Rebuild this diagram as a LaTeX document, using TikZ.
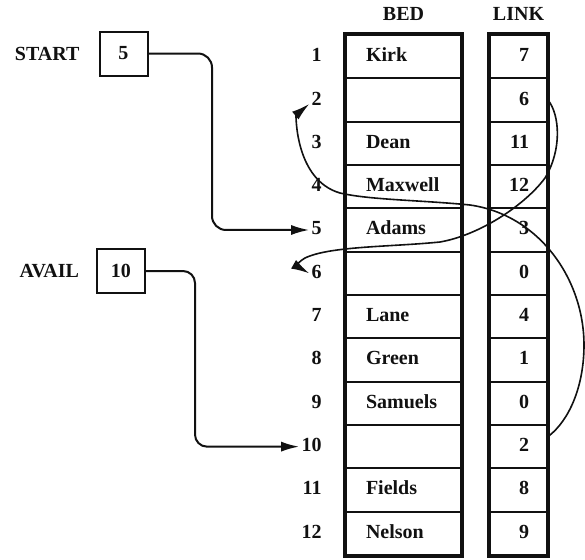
\documentclass[tikz,border=0pt]{standalone}
\usepackage{fontspec}
\setmainfont{Liberation Serif}
\usepackage{tikz}
\usetikzlibrary{arrows.meta, positioning}
\definecolor{printink}{HTML}{111111}

\begin{document}
\begin{tikzpicture}[x=0.5pt, y=-0.5pt, >={Latex[length=9pt, width=5pt]},
    font=\fontsize{10}{12}\selectfont\bfseries, color=printink,
    bedcell/.style={draw, line width=1pt, minimum width=57.5pt, minimum height=21.67pt,
      inner xsep=10pt, text width=37.5pt, align=left, text height=7pt, text depth=2pt},
    linkcell/.style={draw, line width=1pt, minimum width=28.5pt, minimum height=21.67pt,
      inner xsep=9pt, text width=10.5pt, align=right, text height=7pt, text depth=2pt},
    rowno/.style={inner sep=1pt, text height=7pt, text depth=2pt},
    ptrbox/.style={draw, line width=1pt, minimum width=24pt, minimum height=22pt, inner sep=1pt},
    frame/.style={line width=1.8pt},
    ptr/.style={->, line width=1pt},
    curl/.style={->, line width=0.8pt}]
  \fill[white] (0,0) rectangle (585,559);
  \useasboundingbox (0,0) rectangle (585,559);

  \foreach \who/\nxt [count=\i] in {Kirk/7, {}/6, Dean/11, Maxwell/12, Adams/3, {}/0,
      Lane/4, Green/1, Samuels/0, {}/2, Fields/8, Nelson/9} {
    \node[bedcell] (bed\i) at (403.5, {35+43.33*(\i-0.5)}) {\who};
    \node[linkcell, right=13.5pt of bed\i] (link\i) {\nxt};
    \node[rowno, left=10.5pt of bed\i] (idx\i) {\i};
  }
  \draw[frame] (bed1.north west) rectangle (bed12.south east);
  \draw[frame] (link1.north west) rectangle (link12.south east);
  \node[above=3pt of bed1] (bedhead) {BED};
  \node[above=3pt of link1] (linkhead) {LINK};

  \node[ptrbox] (startval) at (123.5, 53.5) {5};
  \node[left=6pt of startval] (startname) {START};
  \node[ptrbox] (availval) at (121, 271) {10};
  \node[left=5pt of availval] (availname) {AVAIL};

  \coordinate (startdrop) at (212, 0);
  \coordinate (availdrop) at (195, 0);
  \draw[ptr, rounded corners=7pt] (startval.east) -| (startdrop |- idx5.west) -- (idx5.west);
  \draw[ptr, rounded corners=6pt] (availval.east) -| (availdrop |- idx10.west) -- (idx10.west);

  \draw[curl] ([yshift=5pt]link10.east) .. controls (570,420) and (584,385) .. (584,345)
    .. controls (584,280) and (540,215) .. (470,205)
    .. controls (420,200) and (370,200) .. (340,193)
    .. controls (295,180) and (296,115) .. ([yshift=-2pt]idx2.west);
  \draw[curl] (link2.east) .. controls (560,115) and (562,150) .. (545,178)
    .. controls (525,205) and (480,235) .. (440,242)
    .. controls (390,247) and (330,246) .. (305,258)
    .. controls (293,265) and (300,268) .. (idx6.west);
\end{tikzpicture}
\end{document}
